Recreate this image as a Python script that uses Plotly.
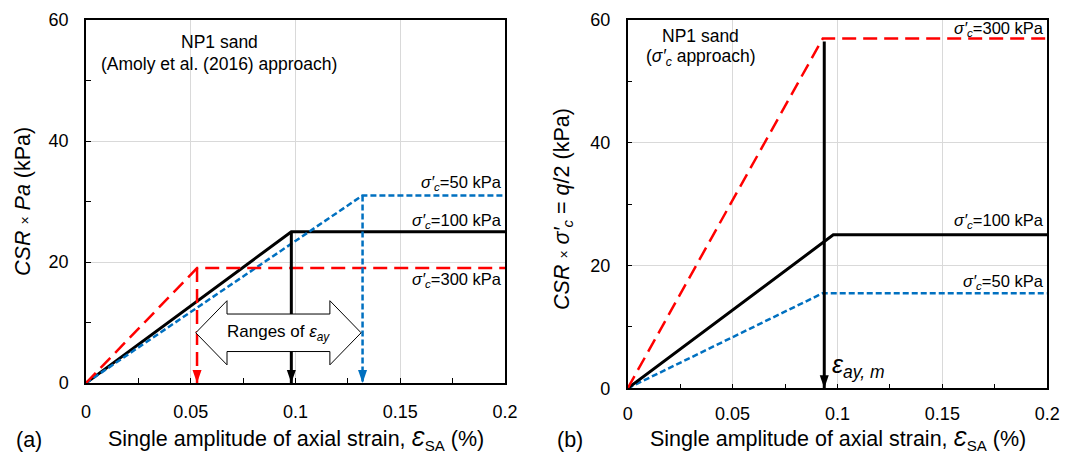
import plotly.graph_objects as go

FONT = "Liberation Sans, Arial, sans-serif"
STRAIN_MAX = 0.2

# Confining stress of each test series (kPa) and its line style
confining_kpa = ["50", "100", "300"]
series_color = ["#0070C0", "#000000", "#FF0000"]
series_dash = ["6px,3px", "solid", "14px,7px"]
series_width = [2.5, 3.0, 2.5]

# (a) Amoly et al. (2016) approach: CSR x Pa
yield_strain_a = [0.132, 0.098, 0.053]
plateau_a = [31, 25, 19]

# (b) sigma'c approach: CSR x sigma'c = q/2
yield_strain_b = [0.093, 0.098, 0.093]
plateau_b = [15.5, 25, 57]
eps_ay_m = 0.0937
eps_ay_m_top = 56.5

# vertical pixel offset of each stress label from its plateau
label_shift_a = [12, 11, -12]
label_shift_b = [11, 14, 9]

fig = go.Figure()
shapes = []
annotations = []


def sigma_label(kpa):
    return "<i>σ′<sub>c</sub></i>=" + kpa + " kPa"


def arrow_head(x, color, xref, yref):
    return dict(type="path", xref=xref, yref=yref,
                xsizemode="pixel", ysizemode="pixel",
                xanchor=x, yanchor=0,
                path="M0,0 L-4.5,13 L4.5,13 Z",
                fillcolor=color, line=dict(width=0), layer="above")


draw_order = [1, 0, 2]

# ---- panel (a) ----
for i in draw_order:
    fig.add_trace(go.Scatter(
        x=[0, yield_strain_a[i], STRAIN_MAX], y=[0, plateau_a[i], plateau_a[i]],
        mode="lines", xaxis="x", yaxis="y", hoverinfo="skip",
        line=dict(color=series_color[i], width=series_width[i], dash=series_dash[i])))
for i in draw_order:
    fig.add_trace(go.Scatter(
        x=[yield_strain_a[i], yield_strain_a[i]], y=[plateau_a[i], 0],
        mode="lines", xaxis="x", yaxis="y", hoverinfo="skip",
        line=dict(color=series_color[i], width=series_width[i], dash=series_dash[i])))
    shapes.append(arrow_head(yield_strain_a[i], series_color[i], "x", "y"))
    annotations.append(dict(
        x=STRAIN_MAX, y=plateau_a[i], xref="x", yref="y", xanchor="right", yanchor="middle",
        xshift=-1, yshift=label_shift_a[i], showarrow=False, text=sigma_label(confining_kpa[i]),
        font=dict(size=16.5, color="black", family=FONT)))

# double-headed block arrow spanning the range of yield strains
x_lo = min(yield_strain_a) - 0.0006
x_hi = max(yield_strain_a) - 0.0007
head = 0.0149
y_mid, y_shaft, y_head = 8.3, 3.1, 5.3
block = (f"M{x_lo},{y_mid} L{x_lo + head},{y_mid + y_head} L{x_lo + head},{y_mid + y_shaft} "
         f"L{x_hi - head},{y_mid + y_shaft} L{x_hi - head},{y_mid + y_head} L{x_hi},{y_mid} "
         f"L{x_hi - head},{y_mid - y_head} L{x_hi - head},{y_mid - y_shaft} "
         f"L{x_lo + head},{y_mid - y_shaft} L{x_lo + head},{y_mid - y_head} Z")
shapes.insert(0, dict(type="path", xref="x", yref="y", path=block, fillcolor="white",
                      line=dict(color="black", width=1), layer="above"))
annotations.append(dict(x=(x_lo + x_hi) / 2, y=y_mid, xref="x", yref="y", showarrow=False,
                        xanchor="center", yanchor="middle",
                        text="Ranges of <i>ε<sub>ay</sub></i>",
                        font=dict(size=17, color="black", family=FONT)))
annotations.append(dict(x=0.0635, y=56.4, xref="x", yref="y", showarrow=False,
                        xanchor="center", yanchor="middle",
                        text="NP1 sand", font=dict(size=17.5, color="black", family=FONT)))
annotations.append(dict(x=0.0635, y=52.8, xref="x", yref="y", showarrow=False,
                        xanchor="center", yanchor="middle",
                        text="(Amoly et al. (2016) approach)",
                        font=dict(size=17.5, color="black", family=FONT)))

# ---- panel (b) ----
for i in [0, 1, 2]:
    fig.add_trace(go.Scatter(
        x=[0, yield_strain_b[i], STRAIN_MAX], y=[0, plateau_b[i], plateau_b[i]],
        mode="lines", xaxis="x2", yaxis="y2", hoverinfo="skip",
        line=dict(color=series_color[i], width=series_width[i], dash=series_dash[i])))
    annotations.append(dict(
        x=STRAIN_MAX, y=plateau_b[i], xref="x2", yref="y2", xanchor="right", yanchor="middle",
        xshift=-1, yshift=label_shift_b[i], showarrow=False, text=sigma_label(confining_kpa[i]),
        font=dict(size=16.5, color="black", family=FONT)))
fig.add_trace(go.Scatter(
    x=[eps_ay_m, eps_ay_m], y=[eps_ay_m_top, 0], mode="lines", xaxis="x2", yaxis="y2",
    hoverinfo="skip", line=dict(color="black", width=3)))
shapes.append(arrow_head(eps_ay_m, "black", "x2", "y2"))
annotations.append(dict(x=eps_ay_m, y=3.7, xref="x2", yref="y2", xanchor="left", yanchor="middle",
                        xshift=6, showarrow=False,
                        text="<i>ε<sub>ay, m</sub></i>",
                        font=dict(size=25, color="black", family=FONT)))
annotations.append(dict(x=0.0345, y=57.4, xref="x2", yref="y2", showarrow=False,
                        xanchor="center", yanchor="middle",
                        text="NP1 sand", font=dict(size=17.5, color="black", family=FONT)))
annotations.append(dict(x=0.0345, y=53.9, xref="x2", yref="y2", showarrow=False,
                        xanchor="center", yanchor="middle",
                        text="(<i>σ′<sub>c</sub></i> approach)",
                        font=dict(size=17.5, color="black", family=FONT)))

# ---- axis titles and panel tags ----
title_font = dict(size=21.5, color="black", family=FONT)
x_title = "Single amplitude of axial strain, <i>Ɛ</i><sub>SA</sub> (%)"
times = "<span style='font-size:14px'>×</span>"
paper = dict(xref="paper", yref="paper", showarrow=False, xanchor="center", yanchor="middle",
             font=title_font)
annotations += [
    dict(paper, x=0.2749, y=0.0476, text=x_title),
    dict(paper, x=0.7791, y=0.0476, text=x_title),
    dict(paper, x=0.0214, y=0.5628, textangle=-90, text=f"<i>CSR</i> {times} <i>Pa</i> (kPa)"),
    dict(paper, x=0.5237, y=0.5476, textangle=-90,
         text=f"<i>CSR</i> {times} <i>σ′<sub>c</sub></i> = <i>q</i>/2 (kPa)"),
    dict(paper, x=0.0274, y=0.0476, text="(a)"),
    dict(paper, x=0.5298, y=0.0476, text="(b)"),
]

common = dict(showline=True, linecolor="black", linewidth=1.5, mirror=True,
              ticks="inside", ticklen=5, tickwidth=1.2, tickcolor="black",
              showgrid=True, gridcolor="#d9d9d9", gridwidth=1, zeroline=False,
              automargin=False,
              tickfont=dict(size=18, color="black", family=FONT))
xcommon = dict(common, range=[0, STRAIN_MAX], dtick=0.05, tick0=0,
               minor=dict(dtick=0.025, ticks="inside", ticklen=5, tickcolor="black", showgrid=False))
ycommon = dict(common, range=[0, 60], dtick=20, tick0=0,
               minor=dict(dtick=10, ticks="inside", ticklen=5, tickcolor="black", showgrid=False))

fig.update_layout(
    width=1075, height=462, margin=dict(l=0, r=0, t=0, b=0, autoexpand=False),
    paper_bgcolor="white", plot_bgcolor="white", showlegend=False,
    xaxis=dict(xcommon, domain=[0.0800, 0.4698], anchor="y", ticklabelstandoff=12),
    yaxis=dict(ycommon, domain=[0.1710, 0.9567], anchor="x", ticklabelstandoff=12),
    xaxis2=dict(xcommon, domain=[0.5839, 0.9742], anchor="y2", ticklabelstandoff=8),
    yaxis2=dict(ycommon, domain=[0.1595, 0.9567], anchor="x2", ticklabelstandoff=12),
    shapes=shapes, annotations=annotations,
)

fig.write_html("out.html")
